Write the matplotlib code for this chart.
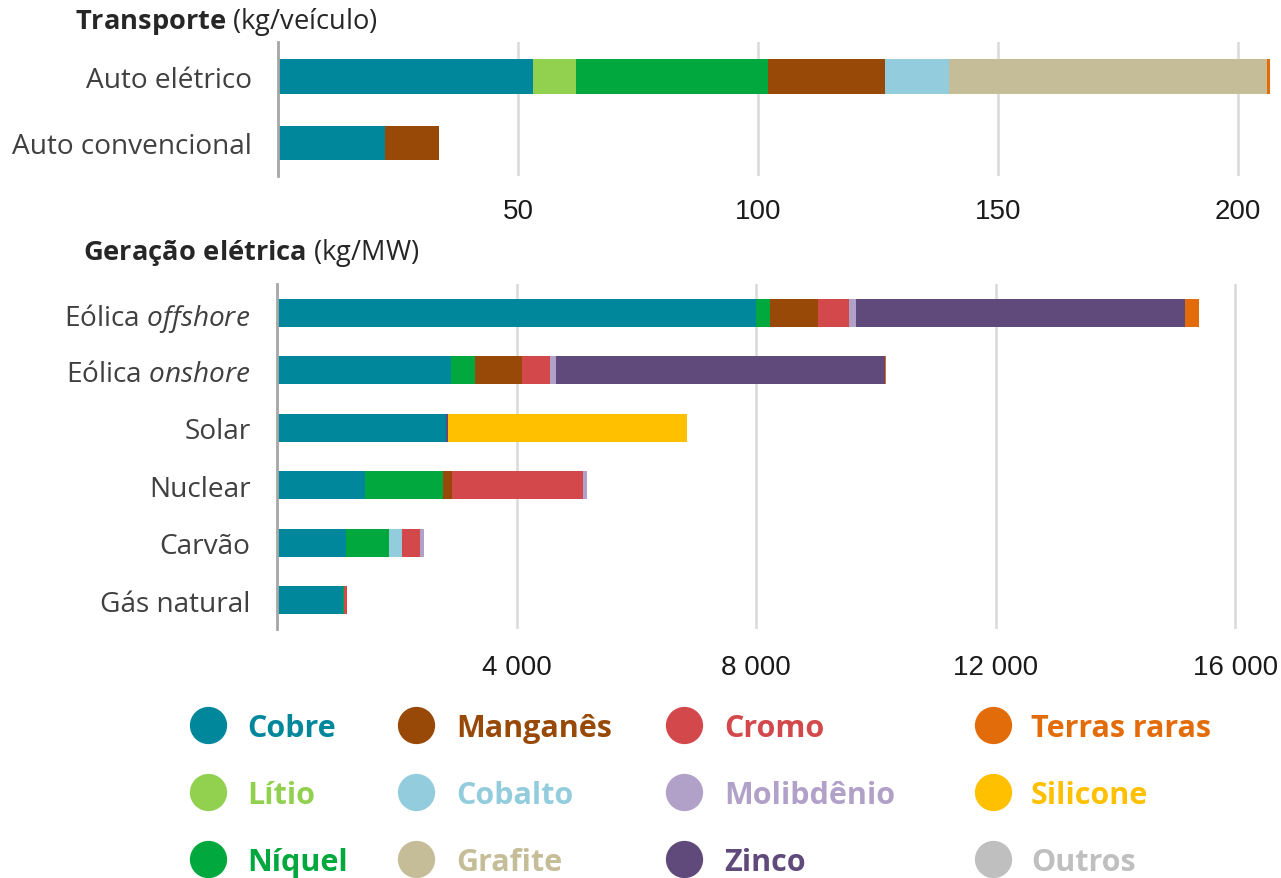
import matplotlib
matplotlib.use("Agg")
import matplotlib.pyplot as plt
from matplotlib import font_manager as fm
import numpy as np

# ---------------- data ----------------
minerals = ["Cobre", "Lítio", "Níquel", "Manganês", "Cobalto", "Grafite",
            "Cromo", "Molibdênio", "Zinco", "Terras raras", "Silicone", "Outros"]
colors = {
    "Cobre": "#00879C", "Lítio": "#92D050", "Níquel": "#00A83D",
    "Manganês": "#984807", "Cobalto": "#93CDDD", "Grafite": "#C4BD97",
    "Cromo": "#D2484B", "Molibdênio": "#B1A0C7", "Zinco": "#604A7B",
    "Terras raras": "#E36C0A", "Silicone": "#FFC000", "Outros": "#BFBFBF",
}

transport_cats = ["Auto elétrico", "Auto convencional"]
transport_vals = {
    "Cobre": [53.2, 22.3],
    "Lítio": [8.9, 0],
    "Níquel": [39.9, 0],
    "Manganês": [24.5, 11.2],
    "Cobalto": [13.3, 0],
    "Grafite": [66.3, 0],
    "Cromo": [0, 0],
    "Molibdênio": [0, 0],
    "Zinco": [0, 0],
    "Terras raras": [0.5, 0],
    "Silicone": [0, 0],
    "Outros": [0, 0],
}

power_cats = ["Eólica $\\it{offshore}$", "Eólica $\\it{onshore}$", "Solar",
              "Nuclear", "Carvão", "Gás natural"]
power_vals = {
    "Cobre": [8000, 2900, 2822, 1473, 1150, 1100],
    "Lítio": [0, 0, 0, 0, 0, 0],
    "Níquel": [240, 404, 1.3, 1297, 721, 16],
    "Manganês": [790, 780, 0, 148, 0, 0],
    "Cobalto": [0, 0, 0, 0, 210, 0],
    "Grafite": [0, 0, 0, 0, 0, 0],
    "Cromo": [525, 470, 0, 2190, 308, 48],
    "Molibdênio": [109, 99, 0, 70, 66, 0],
    "Zinco": [5500, 5500, 30, 0, 0, 0],
    "Terras raras": [239, 14, 0, 0, 0, 0],
    "Silicone": [0, 0, 3990, 0, 0, 0],
    "Outros": [0, 0, 0, 0, 0, 0],
}

transport_ticks = [50, 100, 150, 200]
power_ticks = [4000, 8000, 12000, 16000]
power_tick_labels = ["4 000", "8 000", "12 000", "16 000"]

legend_rows = [["Cobre", "Manganês", "Cromo", "Terras raras"],
               ["Lítio", "Cobalto", "Molibdênio", "Silicone"],
               ["Níquel", "Grafite", "Zinco", "Outros"]]

# ---------------- fonts ----------------
names = {f.name for f in fm.fontManager.ttflist}
LBL = "Open Sans"
NUM = "Liberation Sans Narrow" if "Liberation Sans Narrow" in names else "Liberation Sans"
plt.rcParams["font.family"] = [LBL, "DejaVu Sans"]
plt.rcParams["mathtext.fontset"] = "custom"
plt.rcParams["mathtext.rm"] = LBL
plt.rcParams["mathtext.it"] = LBL + ":italic"
plt.rcParams["mathtext.bf"] = LBL + ":bold"

W, H = 1281, 879
fig = plt.figure(figsize=(W / 100, H / 100), dpi=100)
fig.patch.set_facecolor("white")

TXT = "#404040"
GRID = "#D9D9D9"
SPINE = "#A6A6A6"


def px_axes(l, t, r, b):
    return fig.add_axes([l / W, 1 - b / H, (r - l) / W, (b - t) / H])


def stacked(ax, cats, vals, height):
    y = np.arange(len(cats))
    left = np.zeros(len(cats))
    for m in minerals:
        v = np.array(vals[m], dtype=float)
        ax.barh(y, v, left=left, height=height, color=colors[m], linewidth=0, zorder=3)
        left += v
    ax.set_yticks(y)
    ax.set_yticklabels(cats, fontsize=20.2, color=TXT)
    for s in ["top", "right", "bottom"]:
        ax.spines[s].set_visible(False)
    ax.spines["left"].set_color(SPINE)
    ax.spines["left"].set_linewidth(2)
    ax.spines["left"].set_zorder(4)
    ax.tick_params(axis="y", length=0, pad=19)
    ax.tick_params(axis="x", length=0, labelsize=20, labelcolor="#1a1a1a")
    ax.grid(axis="x", color=GRID, linewidth=1.8, zorder=0)


# top axes: transport
ax1 = px_axes(278, 43, 1279, 177)
stacked(ax1, transport_cats, transport_vals, 0.53)
ax1.set_xlim(0, 208.5)
ax1.set_ylim(1.5, -0.53)
ax1.set_xticks(transport_ticks)
ax1.set_xticklabels([str(t) for t in transport_ticks], fontfamily=NUM, fontsize=20, color="#1a1a1a")
ax1.tick_params(axis="x", pad=16)

# bottom axes: power
ax2 = px_axes(277, 285, 1277, 630)
stacked(ax2, power_cats, power_vals, 0.49)
ax2.set_xlim(0, 16700)
ax2.set_ylim(5.5, -0.5)
ax2.set_xticks(power_ticks)
ax2.set_xticklabels(power_tick_labels, fontfamily=NUM, fontsize=20, color="#1a1a1a")
ax2.tick_params(axis="x", pad=18)

# section titles
fig.text(75 / W, 1 - 22 / H, "$\\bf{Transporte}$ (kg/veículo)", fontsize=19.6,
         color="#262626", va="center", ha="left")
fig.text(83 / W, 1 - 253 / H, "$\\bf{Geração\\ elétrica}$ (kg/MW)", fontsize=19.6,
         color="#262626", va="center", ha="left")

# legend
lax = fig.add_axes([0, 0, 1, 1], zorder=-1)
lax.set_xlim(0, W)
lax.set_ylim(H, 0)
lax.axis("off")
circle_x = [208, 416, 684, 993]
text_x = [247, 456, 724, 1031]
row_y = [726, 793, 860]
for r, row in enumerate(legend_rows):
    for c, m in enumerate(row):
        lax.scatter([circle_x[c]], [row_y[r]], s=720, color=colors[m], linewidths=0)
        lax.text(text_x[c], row_y[r] + 11, m, color=colors[m], fontsize=22,
                 fontweight="bold", va="baseline", ha="left")

fig.savefig("out.png", dpi=100, facecolor="white")
